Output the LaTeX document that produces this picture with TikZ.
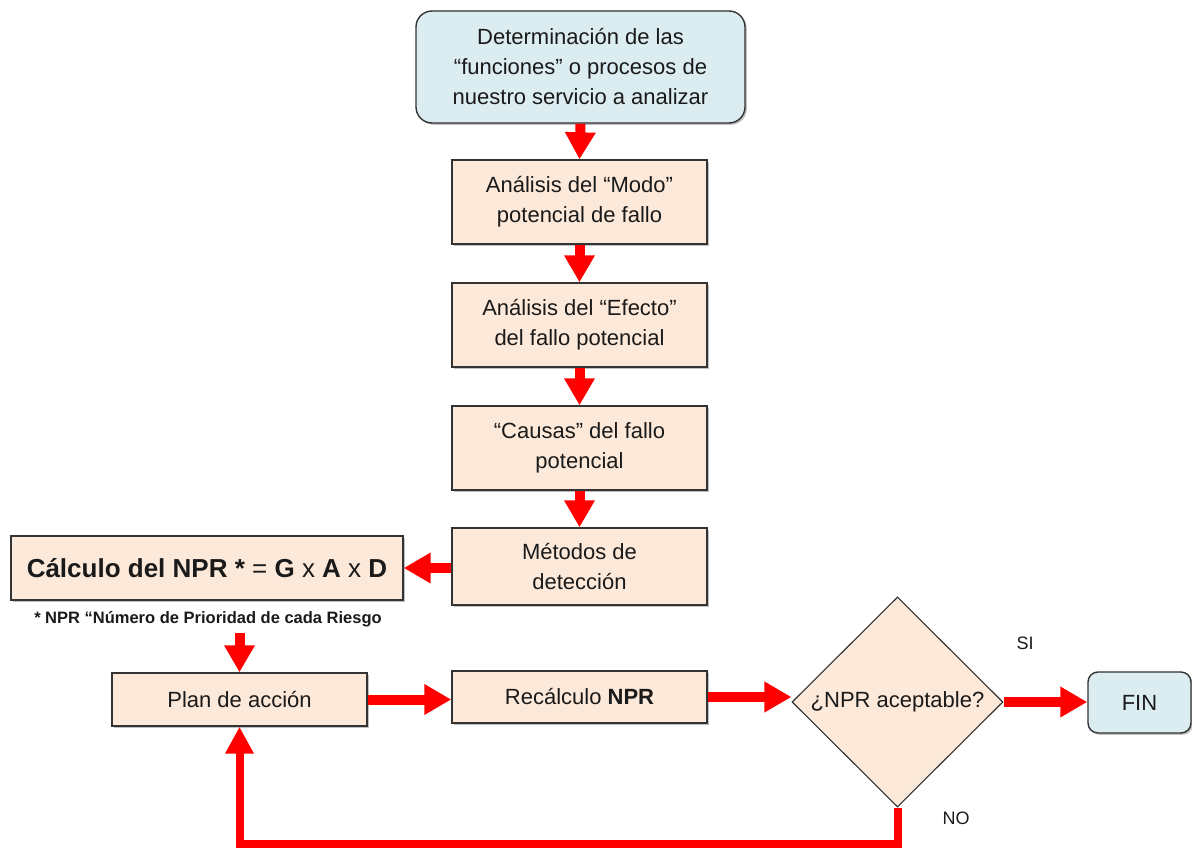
\documentclass[tikz,border=0pt]{standalone}
\usepackage{fontspec}
\setmainfont{Liberation Sans}
\usetikzlibrary{arrows.meta,shapes.geometric,shadows}
\definecolor{peach}{HTML}{FDE9D9}
\definecolor{paleblue}{HTML}{DCEDF1}
\definecolor{edgegray}{HTML}{333333}
\definecolor{flowred}{HTML}{FF0000}
\definecolor{ink}{HTML}{1A1A1A}
\tikzset{
  boxshadow/.style={drop shadow={shadow xshift=1.8pt,shadow yshift=-1.8pt,fill=black!55,opacity=0.45}},
  stepbox/.style={draw=edgegray, line width=1.4pt, fill=peach, text=ink, align=center,
    inner sep=0pt, font=\fontsize{22}{30}\selectfont, boxshadow},
  termbox/.style={stepbox, fill=paleblue, rounded corners=16pt},
  decision/.style={diamond, draw=edgegray, line width=1.1pt, fill=peach, text=ink,
    inner sep=0pt, font=\fontsize{22}{30}\selectfont},
  flowarrow/.style={draw=flowred, line width=10pt, -{Triangle[length=27pt,width=29pt]}},
  backarrow/.style={draw=flowred, line width=8pt, -{Triangle[length=27pt,width=27pt]}},
  tag/.style={text=ink, font=\fontsize{18}{20}\selectfont, inner sep=0pt}
}
\begin{document}
\begin{tikzpicture}[x=1pt,y=-1pt]
\useasboundingbox (0,0) rectangle (1192,848);

% main column of steps
\node[termbox, minimum width=329pt, minimum height=112pt] (start) at (580.5,67)
  {Determinación de las\\“funciones” o procesos de\\nuestro servicio a analizar};
\node[stepbox, minimum width=255pt, minimum height=84pt] (modo) at (579.5,202)
  {Análisis del “Modo”\\potencial de fallo};
\node[stepbox, minimum width=255pt, minimum height=84pt] (efecto) at (579.5,325)
  {Análisis del “Efecto”\\del fallo potencial};
\node[stepbox, minimum width=255pt, minimum height=84pt] (causas) at (579.5,448)
  {“Causas” del fallo\\potencial};
\node[stepbox, minimum width=255pt, minimum height=77pt] (metodos) at (579.5,566.5)
  {Métodos de\\detección};

% risk priority number
\node[stepbox, minimum width=392pt, minimum height=64pt,
      font=\fontsize{26}{30}\selectfont\bfseries] (calc) at (207,568)
  {Cálculo del NPR * {\mdseries=} G {\mdseries x} A {\mdseries x} D};
\node[text=ink, inner sep=0pt, font=\fontsize{16.5}{18}\selectfont\bfseries] (note) at (208,619)
  {* NPR “Número de Prioridad de cada Riesgo};

% action loop
\node[stepbox, minimum width=255pt, minimum height=53pt] (plan) at (239.5,699.5)
  {Plan de acción};
\node[stepbox, minimum width=255pt, minimum height=52pt] (recalc) at (579.5,697)
  {Recálculo \textbf{NPR}};
\node[decision, minimum width=211pt, minimum height=210pt] (ok) at (897.5,702)
  {¿NPR aceptable?};
\node[termbox, rounded corners=10pt, minimum width=103pt, minimum height=61pt] (fin) at (1139.5,702.5)
  {FIN};
\node[tag] (si) at (1025,643) {SI};
\node[tag] (no) at (956,818) {NO};

% connectors
\draw[flowarrow] (start.south) -- (modo.north);
\draw[flowarrow] (modo.south) -- (efecto.north);
\draw[flowarrow] (efecto.south) -- (causas.north);
\draw[flowarrow] (causas.south) -- (metodos.north);
\draw[flowarrow] (metodos.west |- calc.east) -- (calc.east);
\coordinate (below note) at ([yshift=-6pt]note.south -| plan.north);
\draw[flowarrow] (below note) -- (plan.north);
\draw[flowarrow] (plan.east) -- (recalc.west |- plan.east);
\draw[flowarrow] (recalc.east) -- (ok.west |- recalc.east);
\draw[flowarrow] (ok.east) -- (fin.west |- ok.east);
\draw[backarrow] (ok.south) -- ++(0,36) -| (plan.south);
\end{tikzpicture}
\end{document}
